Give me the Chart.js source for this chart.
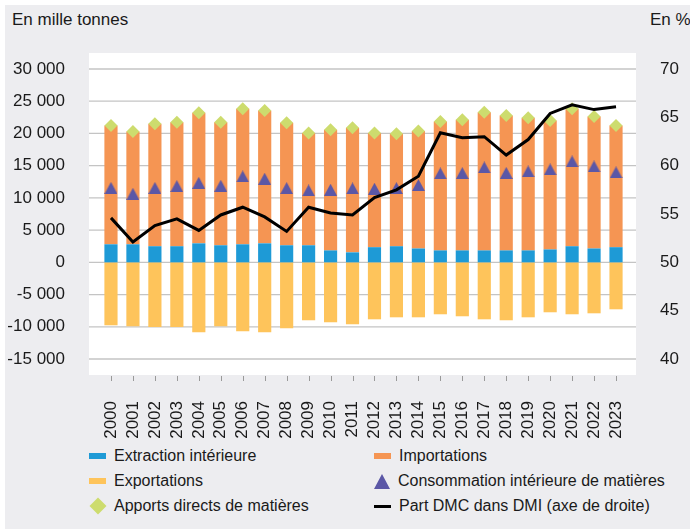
<!DOCTYPE html>
<html>
<head>
<meta charset="utf-8">
<script src="https://cdn.jsdelivr.net/npm/chart.js@4"></script>
<style>
  body { margin: 0; background: #fff; font-family: "Liberation Sans", Arial, sans-serif; color: #1a1a1a; }
  #panel { position: absolute; left: 5px; top: 5px; width: 685px; height: 524px; background: #ededf0; }
  #myChart { position: absolute; left: 0; top: 0; }
  .axis-title { position: absolute; font-size: 17px; line-height: 20px; top: 10px; white-space: nowrap; }
  .item { position: absolute; height: 24px; display: flex; align-items: center; font-size: 16px; white-space: nowrap; }
  .mk { width: 17px; margin-right: 8px; flex: none; }
  .box { height: 6px; }
  .tri { width: 0; height: 0; border-left: 8.5px solid transparent; border-right: 8.5px solid transparent; border-bottom: 15px solid #5b57a6; }
  .dia { width: 17px; height: 17px; position: relative; }
  .dia::after { content: ""; position: absolute; left: 2.5px; top: 2.5px; width: 12px; height: 12px; background: #cddc6e; transform: rotate(45deg); }
  .ln { height: 3px; background: #000; }
</style>
</head>
<body>
<div id="panel"></div>
<div class="axis-title" style="left:12px">En mille tonnes</div>
<div class="axis-title" style="left:650px">En %</div>
<canvas id="myChart" width="690" height="440"></canvas>

<div class="item" style="left:89px;top:444px"><span class="mk box" style="background:#1e9ad6"></span>Extraction intérieure</div>
<div class="item" style="left:374px;top:444px"><span class="mk box" style="background:#f59553"></span>Importations</div>
<div class="item" style="left:89px;top:469px"><span class="mk box" style="background:#fec45b"></span>Exportations</div>
<div class="item" style="left:374px;top:469px"><span class="mk tri"></span>Consommation intérieure de matières</div>
<div class="item" style="left:89px;top:494px"><span class="mk dia"></span>Apports directs de matières</div>
<div class="item" style="left:374px;top:494px"><span class="mk ln"></span>Part DMC dans DMI (axe de droite)</div>

<script>
const years = ["2000", "2001", "2002", "2003", "2004", "2005", "2006", "2007", "2008", "2009", "2010", "2011",
  "2012", "2013", "2014", "2015", "2016", "2017", "2018", "2019", "2020", "2021", "2022", "2023"];

// en mille tonnes
const extraction = [2800, 2800, 2500, 2500, 2950, 2650, 2800, 2950, 2650, 2650, 1850, 1550,
  2350, 2500, 2150, 1850, 1850, 1850, 1850, 1850, 2000, 2500, 2150, 2350];
const importations = [18440, 17510, 19000, 19250, 20250, 19100, 21030, 20620, 19000, 17400, 18720, 19330,
  17700, 17450, 18210, 20010, 20270, 21450, 20940, 20580, 20020, 21330, 20490, 18890];
const exportations = [-9770, -9920, -10030, -10030, -10850, -9920, -10700, -10850, -10230, -8990, -9300, -9610,
  -8840, -8530, -8530, -8060, -8370, -8840, -8990, -8530, -7750, -8060, -7910, -7290];
const dmc = [11550, 10640, 11550, 11830, 12330, 11890, 13330, 12970, 11520, 11160, 11270, 11470,
  11420, 11520, 11990, 13800, 13850, 14730, 13880, 14110, 14420, 15660, 14880, 13950];
const dmi = [21240, 20310, 21500, 21750, 23200, 21750, 23830, 23570, 21650, 20050, 20570, 20880,
  20050, 19950, 20360, 21860, 22120, 23300, 22790, 22430, 22020, 23830, 22640, 21240];
// en %
const partDmc = [54.6, 52.1, 53.8, 54.5, 53.3, 54.9, 55.7, 54.7, 53.2, 55.7, 55.1, 54.9,
  56.7, 57.5, 58.9, 63.4, 62.9, 63.0, 61.1, 62.7, 65.4, 66.3, 65.8, 66.1];

const tickFont = { family: "Liberation Sans", size: 17 };

// triangle drawn centred on its box
const tri = document.createElement("canvas");
tri.width = 13;
tri.height = 12;
const tctx = tri.getContext("2d");
tctx.fillStyle = "#5b57a6";
tctx.beginPath();
tctx.moveTo(6.5, 0);
tctx.lineTo(13, 12);
tctx.lineTo(0, 12);
tctx.closePath();
tctx.fill();

function fmt(v) {
  const s = Math.abs(v).toString().replace(/\B(?=(\d{3})+(?!\d))/g, " ");
  return (v < 0 ? "-" : "") + s;
}

// white plot panel, horizontal grid and the little year ticks
const backdrop = {
  id: "backdrop",
  beforeDatasetsDraw(chart) {
    const { ctx } = chart;
    const y = chart.scales.y;
    const x = chart.scales.x;
    ctx.save();
    ctx.fillStyle = "#fff";
    ctx.fillRect(89, 53, 547, 322);
    ctx.strokeStyle = "#c4c4c4";
    ctx.lineWidth = 1.3;
    y.ticks.forEach(function (t, i) {
      const py = y.getPixelForTick(i);
      ctx.beginPath();
      ctx.moveTo(89, py);
      ctx.lineTo(636, py);
      ctx.stroke();
    });
    ctx.strokeStyle = "#999";
    ctx.lineWidth = 1;
    x.ticks.forEach(function (t, i) {
      const px = Math.round(x.getPixelForTick(i)) + 0.5;
      ctx.beginPath();
      ctx.moveTo(px, 376);
      ctx.lineTo(px, 381);
      ctx.stroke();
    });
    ctx.restore();
  },
};

new Chart(document.getElementById("myChart"), {
  type: "bar",
  data: {
    labels: years,
    datasets: [
      {
        type: "line",
        label: "Part DMC dans DMI (axe de droite)",
        data: partDmc,
        yAxisID: "y1",
        borderColor: "#000",
        borderWidth: 3,
        pointRadius: 0,
        tension: 0,
        order: 0,
      },
      {
        type: "line",
        label: "Consommation intérieure de matières",
        data: dmc,
        stack: "dmc",
        showLine: false,
        pointStyle: tri,
        pointRadius: 7,
        order: 1,
      },
      {
        type: "line",
        label: "Apports directs de matières",
        data: dmi,
        stack: "dmi",
        showLine: false,
        pointStyle: "rectRot",
        pointRadius: 6.5,
        pointBackgroundColor: "#cddc6e",
        pointBorderWidth: 0,
        order: 1,
      },
      { label: "Extraction intérieure", data: extraction, backgroundColor: "#1e9ad6", stack: "flux", order: 2 },
      { label: "Importations", data: importations, backgroundColor: "#f59553", stack: "flux", order: 2 },
      { label: "Exportations", data: exportations, backgroundColor: "#fec45b", stack: "flux", order: 2 },
    ],
  },
  options: {
    responsive: false,
    animation: false,
    layout: { padding: { top: 69, left: 0, right: 0, bottom: 0 } },
    datasets: { bar: { categoryPercentage: 1, barPercentage: 0.6, borderWidth: 0 } },
    plugins: { legend: { display: false }, tooltip: { enabled: false } },
    scales: {
      x: {
        stacked: true,
        grid: { display: false },
        border: { display: false },
        ticks: { minRotation: 90, maxRotation: 90, autoSkip: false, padding: 34, font: tickFont, color: "#1a1a1a" },
        afterFit: function (s) { s.height = 81; },
      },
      y: {
        stacked: true,
        min: -15000,
        max: 30000,
        grid: { display: false },
        border: { display: false },
        ticks: { stepSize: 5000, callback: fmt, padding: 27, font: tickFont, color: "#1a1a1a" },
        afterFit: function (s) { s.width = 100; },
      },
      y1: {
        position: "right",
        min: 40,
        max: 70,
        grid: { display: false },
        border: { display: false },
        ticks: { stepSize: 5, padding: 25, font: tickFont, color: "#1a1a1a" },
        afterFit: function (s) { s.width = 63; },
      },
    },
  },
  plugins: [backdrop],
});
</script>
</body>
</html>
